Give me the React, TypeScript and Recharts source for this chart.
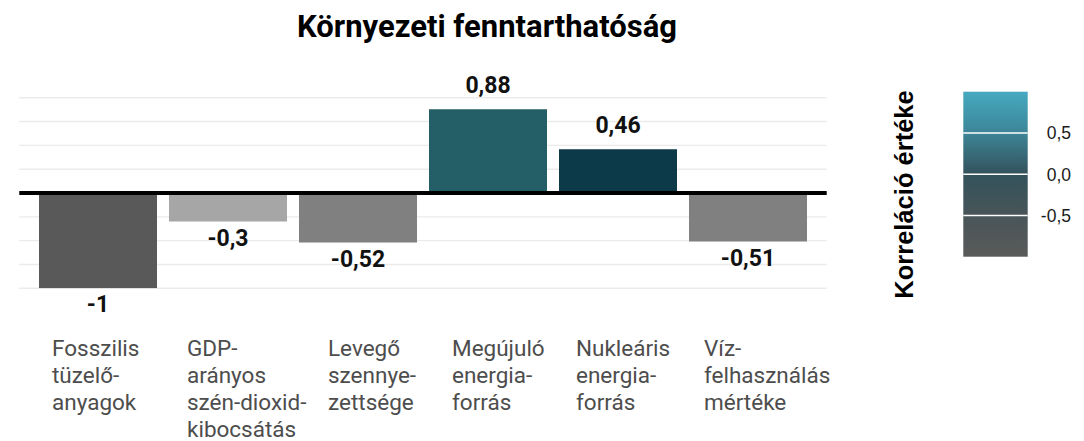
import { BarChart, Bar, Cell, XAxis, YAxis, CartesianGrid, ReferenceLine, LabelList } from "recharts";

const categories = [
  "Fosszilis\ntüzelő-\nanyagok",
  "GDP-\narányos\nszén-dioxid-\nkibocsátás",
  "Levegő\nszennye-\nzettsége",
  "Megújuló\nenergia-\nforrás",
  "Nukleáris\nenergia-\nforrás",
  "Víz-\nfelhasználás\nmértéke",
];
const correlations = [-1, -0.3, -0.52, 0.88, 0.46, -0.51];
const gridTicks = [-1, -0.75, -0.5, -0.25, 0, 0.25, 0.5, 0.75, 1];
const legendTicks = [0.5, 0, -0.5];
const legendLabels = ["0,5", "0,0", "-0,5"];

const barColors = ["#595959", "#a6a6a6", "#808080", "#245e66", "#0c3a48", "#808080"];
// horizontal nudge of each multi-line category label, left aligned text
const labelDx = [-46, -41, -30, -36, -42, -44];

const data = categories.map((name, i) => ({ name, value: correlations[i] }));

const fmt = (v: number) => String(v).replace(".", ",");

function CategoryTick(props: any) {
  const { x, y, payload } = props;
  const lines = String(payload.value).split("\n");
  const dx = labelDx[payload.index] ?? -40;
  return (
    <text x={x + dx} y={y} fill="#4d4d4d" fontSize={22.5} fontFamily="Roboto" textAnchor="start">
      {lines.map((line, i) => (
        <tspan key={i} x={x + dx} y={y + 68 + i * 26.8}>
          {line}
        </tspan>
      ))}
    </text>
  );
}

function ValueLabel(props: any) {
  const { x, y, width, height, value } = props;
  const top = Math.min(y, y + height);
  const bottom = Math.max(y, y + height);
  const ty = value >= 0 ? top - 16 : bottom + 24;
  return (
    <text x={x + width / 2} y={ty} textAnchor="middle" fontFamily="Roboto" fontWeight={700} fontSize={23} fill="#111">
      {fmt(value)}
    </text>
  );
}

// colour bar: value -> y
const barTop = 91.7;
const barBottom = 256.7;
const legendY = (v: number) => barTop + ((1 - v) / 2) * (barBottom - barTop);

export default function App() {
  return (
    <div style={{ position: "absolute", left: 0, top: 0, width: 1084, height: 441, background: "#fff" }}>
      <BarChart
        width={1084}
        height={441}
        data={data}
        margin={{ top: 97.7, right: 257.3, bottom: 0, left: 19.3 }}
      >
        <CartesianGrid vertical={false} stroke="#ebebeb" strokeWidth={1.4} />
        <XAxis
          dataKey="name"
          height={152.7}
          padding={{ left: 13.7, right: 13.7 }}
          axisLine={false}
          tickLine={false}
          tickSize={0}
          tickMargin={0}
          interval={0}
          tick={<CategoryTick />}
        />
        <YAxis hide type="number" domain={[-1, 1]} ticks={gridTicks} allowDataOverflow />
        <Bar dataKey="value" barSize={118} isAnimationActive={false}>
          {data.map((d, i) => (
            <Cell key={d.name} fill={barColors[i]} />
          ))}
          <LabelList dataKey="value" content={<ValueLabel />} />
        </Bar>
        <ReferenceLine y={0} stroke="#000" strokeWidth={4} />
      </BarChart>

      <svg
        width={1084}
        height={441}
        style={{ position: "absolute", left: 0, top: 0, pointerEvents: "none" }}
      >
        <text x={487} y={37} textAnchor="middle" fontFamily="Roboto" fontWeight={700} fontSize={31} fill="#000">
          Környezeti fenntarthatóság
        </text>

        <defs>
          <linearGradient id="corrGrad" x1="0" y1="0" x2="0" y2="1">
            <stop offset="0" stopColor="#46a9c1" />
            <stop offset="0.25" stopColor="#3c8597" />
            <stop offset="0.5" stopColor="#34525c" />
            <stop offset="0.75" stopColor="#485558" />
            <stop offset="1" stopColor="#5a5a5a" />
          </linearGradient>
        </defs>
        <text
          transform={`translate(913, 194.5) rotate(-90)`}
          textAnchor="middle"
          fontFamily="Liberation Sans"
          fontWeight={700}
          fontSize={25.5}
          fill="#000"
        >
          Korreláció értéke
        </text>
        <rect x={963.3} y={barTop} width={64.4} height={barBottom - barTop} fill="url(#corrGrad)" />
        {legendTicks.map((t, i) => (
          <g key={t}>
            <line x1={963.3} x2={1027.7} y1={legendY(t)} y2={legendY(t)} stroke="#fff" strokeWidth={1.5} />
            <text
              x={1071}
              y={legendY(t) + 6.5}
              textAnchor="end"
              fontFamily="Liberation Sans"
              fontSize={17.5}
              fill="#1a1a1a"
            >
              {legendLabels[i]}
            </text>
          </g>
        ))}
      </svg>
    </div>
  );
}
